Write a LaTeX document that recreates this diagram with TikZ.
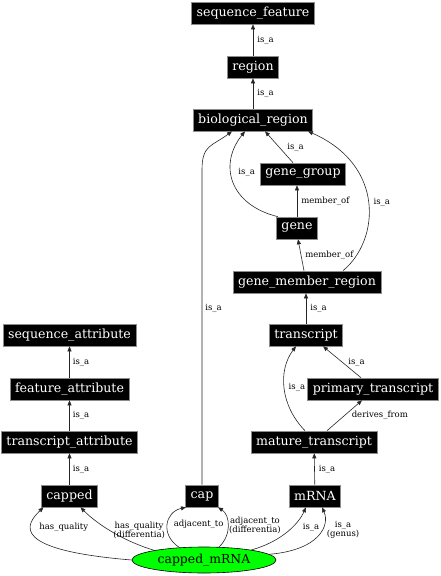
\documentclass[tikz,border=0pt]{standalone}
\usepackage{fontspec}
\setmainfont{DejaVu Serif}
\usetikzlibrary{arrows.meta,shapes.geometric}
\begin{document}
\begin{tikzpicture}[x={(1pt,0pt)},y={(0pt,-1pt)},
  term/.style={fill=black,draw=black!45,line width=0.6pt,text=white,font=\fontsize{12.6}{13}\selectfont,inner xsep=5pt,inner ysep=0pt,minimum height=22pt},
  root/.style={ellipse,fill=green,draw=black,line width=0.6pt,font=\fontsize{12.4}{13}\selectfont,inner sep=0pt,minimum width=144pt,minimum height=26pt},
  rel/.style={draw=black!85,line width=0.6pt,-{Triangle[length=5pt,width=4pt]}},
  lbl/.style={font=\fontsize{8.5}{9}\selectfont,inner sep=0pt,align=center}]
\useasboundingbox (0,0) rectangle (441,576);

\node[term] (sf) at (253,13) {sequence\_feature};
\node[term] (reg) at (253,67) {region};
\node[term] (bio) at (253,120) {biological\_region};
\node[term] (gg) at (303,174) {gene\_group};
\node[term] (gene) at (297,228) {gene};
\node[term] (gmr) at (307,282) {gene\_member\_region};
\node[term] (tr) at (306,335) {transcript};
\node[term] (pt) at (373,389) {primary\_transcript};
\node[term] (mt) at (314,442) {mature\_transcript};
\node[term] (mrna) at (315,496) {mRNA};
\node[term] (sa) at (69.5,335) {sequence\_attribute};
\node[term] (fa) at (69.5,389) {feature\_attribute};
\node[term] (ta) at (69.5,442) {transcript\_attribute};
\node[term] (capped) at (69.5,496) {capped};
\node[term] (cap) at (202,496) {cap};
\node[root] (cm) at (204,560) {capped\_mRNA};

\draw[rel] (reg) -- node[lbl,right=4pt] {is\_a} (sf);
\draw[rel] (bio) -- node[lbl,right=4pt] {is\_a} (reg);
\draw[rel] ([xshift=-10pt]gg.north) -- node[lbl,right=8pt] {is\_a} ([xshift=12pt]bio.south);
\draw[rel] ([xshift=-19pt]gene.north) .. controls (230,205) and (218,165) .. ([xshift=-8pt]bio.south) node[lbl,pos=.6,right=7pt] {is\_a};
\draw[rel] (gene.north) -- node[lbl,right=4pt] {member\_of} (gene.north |- gg.south);
\draw[rel] ([xshift=-3pt]gmr.north) -- node[lbl,right=4pt] {member\_of} ([xshift=1pt]gene.south);
\draw[rel] ([xshift=36pt]gmr.north) .. controls (380,240) and (385,165) .. ([xshift=55pt]bio.south) node[lbl,pos=.5,right=5pt] {is\_a};
\draw[rel] (tr.north) -- node[lbl,right=4pt] {is\_a} (tr.north |- gmr.south);
\draw[rel] ([xshift=-12pt]pt.north) -- node[lbl,right=6pt] {is\_a} ([xshift=17pt]tr.south);
\draw[rel] ([xshift=-9pt]mt.north) .. controls (280,405) and (278,370) .. ([xshift=-10pt]tr.south) node[lbl,pos=.5,right=4pt] {is\_a};
\draw[rel] ([xshift=13pt]mt.north) -- node[lbl,right=7pt] {derives\_from} ([xshift=-11pt]pt.south);
\draw[rel] (mrna) -- node[lbl,right=4pt] {is\_a} (mt);
\draw[rel] (fa) -- node[lbl,right=3pt] {is\_a} (sa);
\draw[rel] (ta) -- node[lbl,right=3pt] {is\_a} (fa);
\draw[rel] (capped) -- node[lbl,right=3pt] {is\_a} (ta);
\draw[rel] (cap.north) -- node[lbl,pos=.56,right=3pt] {is\_a} ++(0,-315) .. controls +(0,-25) and +(-20,15) .. ([xshift=-21pt]bio.south);
\draw[rel] (cm.west) .. controls (10,550) and (25,525) .. ([xshift=-26pt]capped.south) node[lbl,pos=.65,right=8pt] {has\_quality};
\draw[rel] (cm.169) .. controls (120,540) and (95,522) .. ([xshift=11pt]capped.south) node[lbl,pos=.5,right=3pt] {has\_quality\\(differentia)};
\draw[rel] (cm.153) .. controls (160,535) and (165,512) .. ([xshift=-16pt]cap.south) node[lbl,pos=.5,right=6pt] {adjacent\_to};
\draw[rel] (cm.41) .. controls (232,535) and (230,515) .. ([xshift=16pt]cap.south) node[lbl,pos=.5,right=1pt] {adjacent\_to\\(differentia)};
\draw[rel] (cm.12) .. controls (280,542) and (298,525) .. ([xshift=-9pt]mrna.south) node[lbl,pos=.6,right=11pt] {is\_a};
\draw[rel] (cm.5) .. controls (320,550) and (330,525) .. ([xshift=7pt]mrna.south) node[lbl,pos=.6,right=5pt] {is\_a\\(genus)};
\end{tikzpicture}
\end{document}
